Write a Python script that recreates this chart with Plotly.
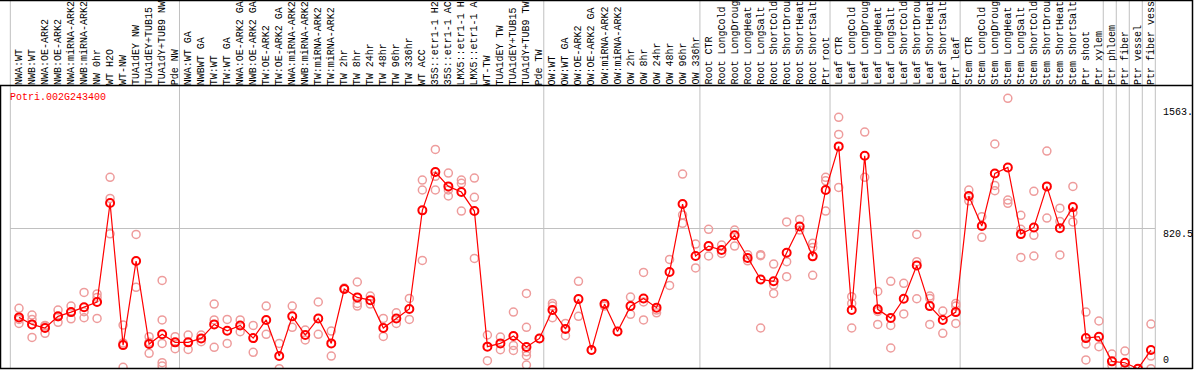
import plotly.graph_objects as go

gene_id = "Potri.002G243400"

categories = [
    "NWA:WT", "NWB:WT", "NWA:OE-ARK2", "NWB:OE-ARK2", "NWA:miRNA-ARK2", "NWB:miRNA-ARK2",
    "NW 0hr", "WT H2O", "WT-NW", "TUA1dEY NW", "TUA1dEY+TUB15", "TUA1dY+TUB9 NW", "Pde NW",
    "NWA:WT GA", "NWBWT GA", "TW:WT", "TW:WT GA", "NWA:OE-ARK2 GA", "NWB:OE-ARK2 GA",
    "TW:OE-ARK2", "TW:OE-ARK2 GA", "NWA:miRNA-ARK2", "NWB:miRNA-ARK2", "TW:miRNA-ARK2",
    "TW:miRNA-ARK2", "TW 2hr", "TW 8hr", "TW 24hr", "TW 48hr", "TW 96hr", "TW 336hr",
    "WT ACC", "35S::etr1-1 H2O", "35S::etr1-1 ACC", "LMX5::etr1-1 H2O", "LMX5::etr1-1 ACC",
    "WT-TW", "TUA1dEY TW", "TUA1dEY+TUB15", "TUA1dY+TUB9 TW", "Pde TW",
    "OW:WT", "OW:WT GA", "OW:OE-ARK2", "OW:OE-ARK2 GA", "OW:miRNA-ARK2", "OW:miRNA-ARK2",
    "OW 2hr", "OW 8hr", "OW 24hr", "OW 48hr", "OW 96hr", "OW 336hr",
    "Root CTR", "Root LongCold", "Root LongDrought", "Root LongHeat", "Root LongSalt",
    "Root ShortCold", "Root ShortDrought", "Root ShortHeat", "Root ShortSalt", "Ptr root",
    "Leaf CTR", "Leaf LongCold", "Leaf LongDrought", "Leaf LongHeat", "Leaf LongSalt",
    "Leaf ShortCold", "Leaf ShortDrought", "Leaf ShortHeat", "Leaf ShortSalt", "Ptr leaf",
    "Stem CTR", "Stem LongCold", "Stem LongDrought", "Stem LongHeat", "Stem LongSalt",
    "Stem ShortCold", "Stem ShortDrought", "Stem ShortHeat", "Stem ShortSalt", "Ptr shoot",
    "Ptr xylem", "Ptr phloem", "Ptr fiber", "Ptr vessel", "Ptr fiber vessel",
]

group_sizes = [13, 28, 12, 10, 10, 11, 1, 1, 1, 1]

means = [
    300, 259, 238, 306, 331, 359, 390, 969, 138, 630, 144, 201, 154,
    154, 177, 259, 222, 253, 179, 285, 74, 306, 197, 294, 148, 466, 417, 401, 238, 294, 349,
    926, 1150, 1066, 1033, 922, 129, 148, 191, 127, 177,
    343, 232, 407, 109, 378, 218, 366, 411, 357, 565, 963, 659,
    717, 694, 780, 647, 522, 511, 678, 832, 657, 1045,
    1300, 343, 1245, 347, 296, 409, 604, 366, 285, 331,
    1010, 834, 1142, 1177, 787, 826, 1066, 822, 945, 179, 187,
    43, 35, 0, 109,
]

replicates = [
    [353, 288, 265], [314, 288, 183], [253, 207, 250], [343, 271, 304], [366, 292, 331],
    [446, 298, 333], [437, 417, 294], [1119, 996, 789], [255, 8, 151], [785, 476],
    [187, 90, 155], [516, 285, 148, 35, 16], [187, 117],
    [197, 113], [197, 158], [378, 285, 125], [288, 148], [285, 216], [253, 96],
    [366, 201], [148, 0], [366, 242], [226, 168], [390, 201], [220, 74],
    [472, 464], [507, 366, 382], [425, 378], [294, 189], [327, 265], [411, 288],
    [1103, 1045, 633], [1282, 1045, 1125], [1144, 1045, 1010], [1103, 1084, 922],
    [1115, 1002, 645], [197, 47], [185, 111], [331, 136, 107], [440, 242, 99, 76, 21], [177],
    [382, 366, 298], [265, 193], [511, 306], [109], [382, 366], [218], [419, 318],
    [563, 390, 285], [343, 327], [639, 487], [1138, 899, 850], [729, 589],
    [815, 659], [723, 674], [811, 717], [667, 631], [667, 238, 661], [612, 489, 440],
    [858, 626, 538], [873, 811], [733, 709, 546], [1119, 1099, 922],
    [1470, 1370, 1060], [421, 382, 238], [1384, 1119], [452, 335, 259], [511, 253, 121],
    [499, 320], [785, 626, 409], [425, 411, 259], [337, 207], [382, 366, 265],
    [1045, 982], [889, 768], [1314, 1072, 1041], [1581, 986, 967], [897, 815, 651],
    [1037, 780, 659], [1273, 881], [939, 861, 665], [1066, 912, 858], [331, 144, 51],
    [279, 129], [86, 19], [103, 0], [0], [261, 74, 0],
]

axis_tick_values = [1563.0, 820.5, 0.0]
axis_tick_labels = ["1563.", "820.5", "0"]

# ---------------- layout geometry (pixels) ----------------
W, H = 1194, 370
ML, MR, MT, MB = 10, 39, 86, 1
PW, PH = W - ML - MR, H - MT - MB
XR = [-0.692, 87.31]
YR = [-1.75, 1653.2]
SEP_OFFSET = -0.667
GRID = "#c0c0c0"
MONO = "Liberation Mono, DejaVu Sans Mono, monospace"

x_idx = list(range(len(categories)))
rx, ry = [], []
for i, reps in enumerate(replicates):
    for v in reps:
        rx.append(i)
        ry.append(v)

fig = go.Figure()
fig.add_trace(go.Scatter(
    x=rx, y=ry, mode="markers",
    marker=dict(symbol="circle-open", size=8, color="#ee9c9c", line=dict(width=1.5, color="#ee9c9c")),
    hoverinfo="skip", showlegend=False,
))
fig.add_trace(go.Scatter(
    x=x_idx, y=means, mode="lines+markers",
    line=dict(color="#ff0000", width=1.2),
    marker=dict(symbol="circle-open", size=8, color="#ff0000", line=dict(width=2, color="#ff0000")),
    text=categories, showlegend=False,
))

def px_to_paper_x(p):
    return (p - ML) / PW

def px_to_paper_y(p):
    return (H - MB - p) / PH

def cat_to_paper_x(c):
    return (c - XR[0]) / (XR[1] - XR[0])

shapes = []
bounds = [0]
for g in group_sizes:
    bounds.append(bounds[-1] + g)
for k in bounds:
    xp = cat_to_paper_x(k + SEP_OFFSET)
    shapes.append(dict(type="line", xref="paper", yref="paper", x0=xp, x1=xp,
                       y0=px_to_paper_y(369), y1=px_to_paper_y(0),
                       line=dict(color=GRID, width=1), layer="below"))

# black frame
frame = [
    (0, 0.5, W - 1.5, 0.5),
    (0, 85.5, W - 1.5, 85.5),
    (0, 368.5, W - 1.5, 368.5),
    (0.5, 85.5, 0.5, 369),
    (W - 1.5, 0, W - 1.5, 369),
]
for x0, y0, x1, y1 in frame:
    shapes.append(dict(type="line", xref="paper", yref="paper",
                       x0=px_to_paper_x(x0), x1=px_to_paper_x(x1),
                       y0=px_to_paper_y(y0), y1=px_to_paper_y(y1),
                       line=dict(color="#000000", width=1.5)))

annotations = []
for i, c in enumerate(categories):
    annotations.append(dict(
        x=i, xref="x", y=px_to_paper_y(86), yref="paper",
        text=c, textangle=-90, xanchor="center", yanchor="bottom",
        showarrow=False, font=dict(family=MONO, size=10, color="#000000"),
        borderpad=0,
    ))

annotations.append(dict(
    x=px_to_paper_x(9), xref="paper", y=px_to_paper_y(98), yref="paper",
    text=gene_id, xanchor="left", yanchor="middle", showarrow=False,
    font=dict(family=MONO, size=10, color="#ff0000"), borderpad=0,
))

label_shift = {0: -5, 1: 0, 2: 2}
for j, (v, t) in enumerate(zip(axis_tick_values, axis_tick_labels)):
    annotations.append(dict(
        x=px_to_paper_x(1162), xref="paper", y=v, yref="y",
        text=t, xanchor="left", yanchor="bottom" if v == 0 else "top",
        yshift=label_shift[j], showarrow=False,
        font=dict(family=MONO, size=10, color="#000000"), borderpad=0,
    ))

fig.update_layout(
    width=W, height=H,
    margin=dict(l=ML, r=MR, t=MT, b=MB, pad=0),
    paper_bgcolor="#ffffff", plot_bgcolor="#ffffff",
    xaxis=dict(range=XR, showgrid=False, zeroline=False, showticklabels=False,
               showline=False, ticks="", fixedrange=True),
    yaxis=dict(range=YR, tickvals=[axis_tick_values[1]], showgrid=True, gridcolor=GRID,
               gridwidth=1, zeroline=False, showticklabels=False, showline=False,
               ticks="", fixedrange=True),
    shapes=shapes, annotations=annotations,
    showlegend=False, hovermode="closest",
)

fig.write_html(
    "out.html",
    config={"displayModeBar": False},
    post_script="document.body.style.margin='0';document.body.style.overflow='hidden';",
)
